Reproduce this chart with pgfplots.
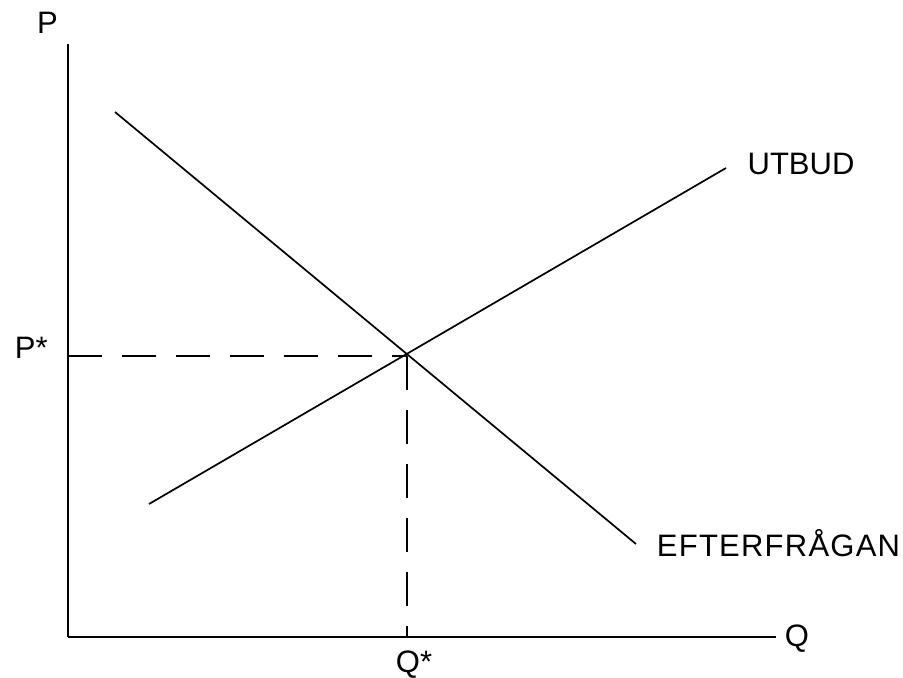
\documentclass[border=0pt]{standalone}
\usepackage{fontspec}
\setmainfont{Liberation Sans}
\usepackage{pgfplots}
\pgfplotsset{compat=1.18}
\begin{document}
\fontsize{15.5pt}{18pt}\selectfont
\begin{tikzpicture}[inner sep=0pt]
\begin{axis}[
  x=0.5pt, y=0.5pt,
  xmin=0, xmax=708, ymin=0, ymax=593,
  axis lines=left,
  x axis line style={-, line width=0.9pt},
  y axis line style={-, line width=1.35pt},
  xtick=\empty, ytick=\empty,
  clip=false,
]
\coordinate (bl) at (axis cs:-68,-40);
\coordinate (tr) at (axis cs:835,637);
% demand (EFTERFRÅGAN)
\addplot[black, line width=0.85pt] coordinates {(47,525) (568,93)};
% supply (UTBUD)
\addplot[black, line width=0.85pt] coordinates {(81,133) (658,469)};
% equilibrium guides
\addplot[black, line width=1.4pt, dash pattern=on 17pt off 10pt] coordinates {(0,281) (339,281)};
\addplot[black, line width=1.4pt, dash pattern=on 17pt off 10pt] coordinates {(339,281) (339,0)};
% labels
\node[inner sep=0pt, font=\fontsize{15.5pt}{18pt}\selectfont] at (axis cs:-20.5,614.5) {P};
\node[inner sep=0pt, font=\fontsize{15.5pt}{18pt}\selectfont] at (axis cs:729,-2) {Q};
\node[inner sep=0pt, font=\fontsize{15.5pt}{18pt}\selectfont, anchor=east] at (axis cs:-20,289) {P*};
\node[inner sep=0pt, font=\fontsize{15.5pt}{18pt}\selectfont, anchor=north] at (axis cs:346,-13) {Q*};
\node[inner sep=0pt, font=\fontsize{15.5pt}{18pt}\selectfont] at (axis cs:733,473) {UTBUD};
\node[inner sep=0pt, font=\fontsize{15.5pt}{18pt}\selectfont] at (axis cs:710.5,93.5) {\addfontfeature{LetterSpace=4}EFTERFRÅGAN};
\end{axis}
\pgfresetboundingbox
\path (bl) rectangle (tr);
\end{tikzpicture}
\end{document}
